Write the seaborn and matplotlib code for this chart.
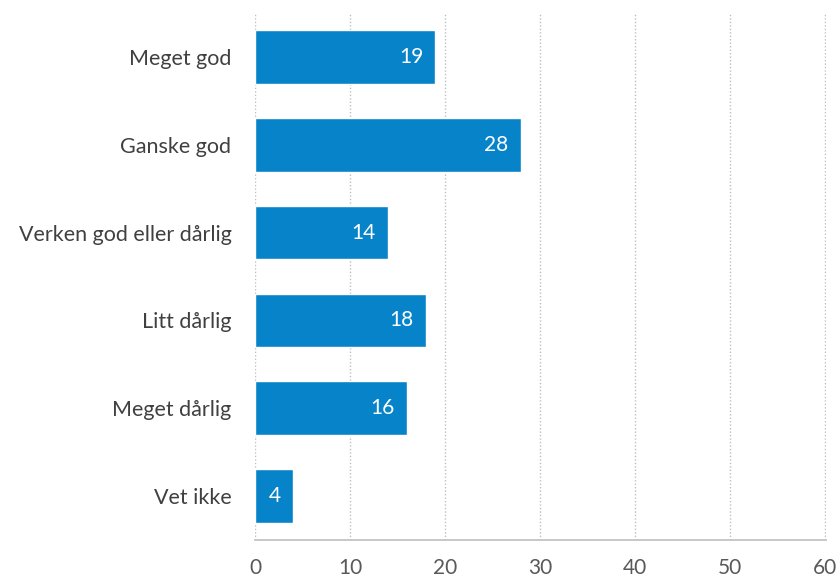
import matplotlib
matplotlib.use("Agg")
import matplotlib.pyplot as plt
import seaborn as sns
import pandas as pd

categories = ["Meget god", "Ganske god", "Verken god eller dårlig", "Litt dårlig", "Meget dårlig", "Vet ikke"]
values = [19, 28, 14, 18, 16, 4]
xticks = [0, 10, 20, 30, 40, 50, 60]

sns.set_theme(style="white")
plt.rcParams['font.family'] = ['Lato', 'DejaVu Sans']

df = pd.DataFrame({"cat": categories, "val": values})

fig = plt.figure(figsize=(8.4, 5.81), dpi=100)
ax = fig.add_axes([0.3036, 0.0706, 0.983 - 0.3036, 0.9776 - 0.0706])
sns.barplot(data=df, x="val", y="cat", color="#0784C9", saturation=1, width=0.61, ax=ax, orient="h")

ax.set_xlim(0, 60.1)
ax.set_xticks(xticks)
ax.set_xticklabels([str(t) for t in xticks])
ax.set_xlabel("")
ax.set_ylabel("")
ax.xaxis.grid(True, linestyle=(0, (1, 1.5)), color="#BFBFBF", linewidth=1)
ax.set_axisbelow(True)
for s in ["top", "right"]:
    ax.spines[s].set_visible(False)
ax.spines["left"].set_visible(False)
ax.spines["bottom"].set_color("#BFBFBF")
ax.spines["bottom"].set_linewidth(1.2)
ax.tick_params(axis="x", length=0, pad=13, labelsize=15, labelcolor="#595959")
ax.tick_params(axis="y", length=0, pad=17, labelsize=15.5, labelcolor="#404040")

for i, v in enumerate(values):
    ax.text(v - 1.3, i, str(v), ha="right", va="center", color="white", fontsize=15)

fig.savefig("out.png", dpi=100)
